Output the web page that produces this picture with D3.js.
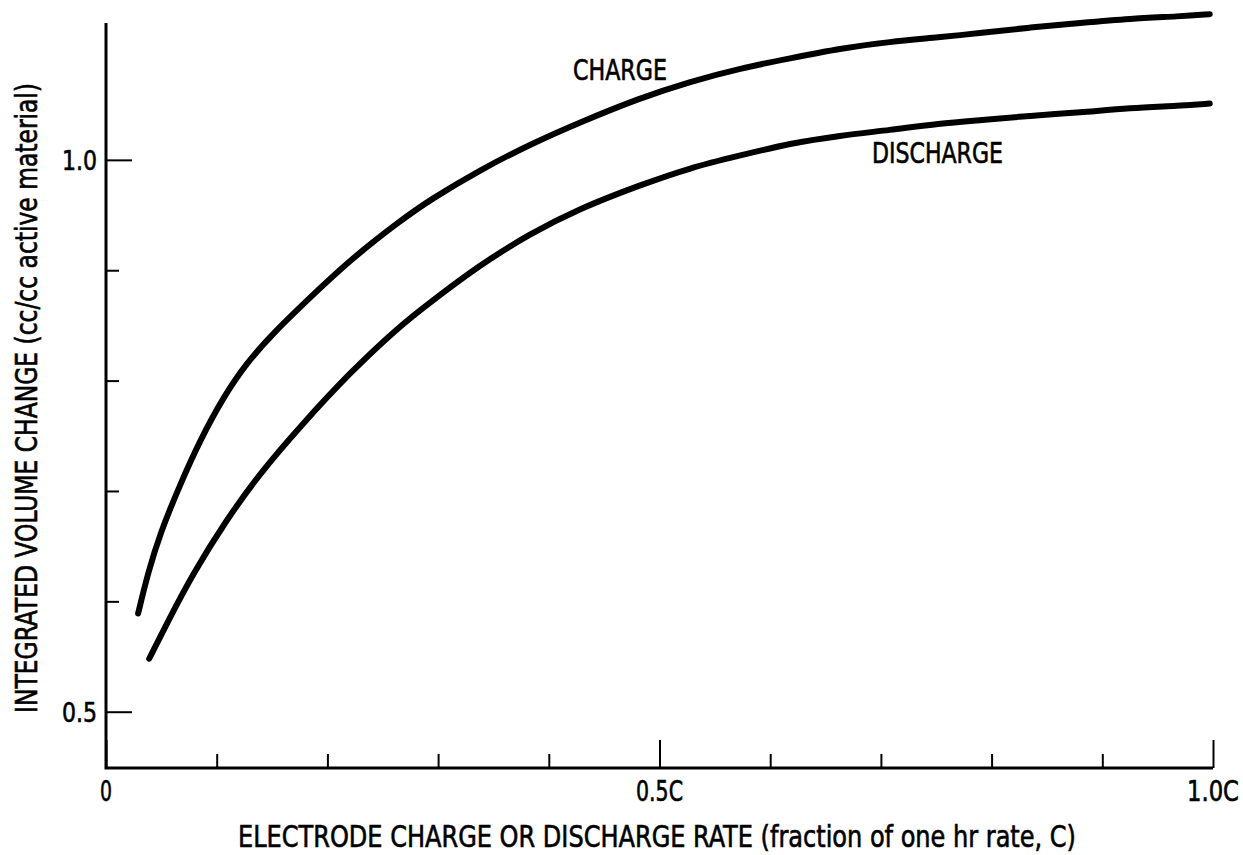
<!DOCTYPE html>
<html>
<head>
<meta charset="utf-8">
<script src="https://cdn.jsdelivr.net/npm/d3@7"></script>
<style>
  body { margin: 0; background: #fff; }
  text { font-family: "Liberation Sans Narrow", "DejaVu Sans Condensed", "Liberation Sans", sans-serif; fill: #000; stroke: #000; stroke-width: 0.6px; }
</style>
</head>
<body>
<div id="chart"></div>
<script>
// rate (fraction of C) vs integrated volume change (cc/cc active material)
var chargeX = [0.029, 0.038, 0.049, 0.067, 0.085, 0.106, 0.127, 0.151, 0.182, 0.220, 0.266, 0.293, 0.338, 0.383, 0.428, 0.482, 0.528, 0.573, 0.618, 0.663, 0.708, 0.753, 0.790, 0.835, 0.880, 0.925, 0.970, 0.997];
var chargeY = [0.589, 0.626, 0.662, 0.706, 0.746, 0.785, 0.816, 0.843, 0.873, 0.909, 0.945, 0.964, 0.991, 1.014, 1.034, 1.056, 1.071, 1.083, 1.092, 1.101, 1.107, 1.111, 1.115, 1.120, 1.124, 1.128, 1.130, 1.132];

var dischargeX = [0.039, 0.055, 0.079, 0.109, 0.139, 0.175, 0.220, 0.266, 0.293, 0.338, 0.383, 0.428, 0.482, 0.528, 0.573, 0.618, 0.663, 0.708, 0.753, 0.790, 0.835, 0.880, 0.925, 0.970, 0.997];
var dischargeY = [0.548, 0.580, 0.626, 0.674, 0.716, 0.758, 0.807, 0.850, 0.871, 0.905, 0.933, 0.956, 0.977, 0.993, 1.004, 1.015, 1.022, 1.027, 1.033, 1.036, 1.040, 1.043, 1.047, 1.049, 1.051];

var xMajor = [0, 0.5, 1.0];
var xMajorLabels = ["0", "0.5C", "1.0C"];
var xMinor = [0.1, 0.2, 0.3, 0.4, 0.6, 0.7, 0.8, 0.9];
var yMajor = [0.5, 1.0];
var yMajorLabels = ["0.5", "1.0"];
var yMinor = [0.6, 0.7, 0.8, 0.9];

var width = 1243,
    height = 855;

var svg = d3.select("#chart")
    .append("svg")
    .attr("width", width)
    .attr("height", height);

var x = d3.scaleLinear().domain([0, 1]).range([106, 1213]);
var y = d3.scaleLinear().domain([0.449, 1.124]).range([768, 23]);

// axes
function styleAxis(g) {
    g.select(".domain").remove();
    g.selectAll(".tick line").attr("stroke", "#000").attr("stroke-width", 2);
}

svg.append("g")
    .attr("transform", "translate(0," + y.range()[0] + ")")
    .call(d3.axisBottom(x).tickValues(xMinor).tickSize(-14).tickFormat(""))
    .call(styleAxis);

svg.append("g")
    .attr("transform", "translate(0," + y.range()[0] + ")")
    .call(d3.axisBottom(x).tickValues(xMajor).tickSize(-28).tickFormat(""))
    .call(styleAxis);

svg.append("g")
    .attr("transform", "translate(" + x.range()[0] + ",0)")
    .call(d3.axisLeft(y).tickValues(yMinor).tickSize(-13).tickFormat(""))
    .call(styleAxis);

svg.append("g")
    .attr("transform", "translate(" + x.range()[0] + ",0)")
    .call(d3.axisLeft(y).tickValues(yMajor).tickSize(-26).tickFormat(""))
    .call(styleAxis);

// axis lines
svg.append("path")
    .attr("d", "M" + x(0) + "," + y.range()[1] + "V" + y.range()[0] + "H" + x(1))
    .attr("fill", "none")
    .attr("stroke", "#000")
    .attr("stroke-width", 3);

// tick labels (widths squeezed to the condensed face of the original)
var xLabWidth = [12, 47, 52];
svg.selectAll(".xlab")
    .data(xMajor)
    .enter().append("text")
    .attr("class", "xlab")
    .attr("x", function (d, i) { return x(d) - xLabWidth[i] / 2; })
    .attr("y", 801)
    .attr("textLength", function (d, i) { return xLabWidth[i]; })
    .attr("lengthAdjust", "spacingAndGlyphs")
    .style("font-size", "29px")
    .text(function (d, i) { return xMajorLabels[i]; });

svg.selectAll(".ylab")
    .data(yMajor)
    .enter().append("text")
    .attr("class", "ylab")
    .attr("x", 62)
    .attr("y", function (d) { return y(d) + 10; })
    .attr("textLength", 35)
    .attr("lengthAdjust", "spacingAndGlyphs")
    .style("font-size", "27px")
    .text(function (d, i) { return yMajorLabels[i]; });

// axis titles
svg.append("text")
    .attr("x", 657)
    .attr("y", 847)
    .attr("text-anchor", "middle")
    .attr("textLength", 838)
    .attr("lengthAdjust", "spacingAndGlyphs")
    .style("font-size", "30px")
    .text("ELECTRODE CHARGE OR DISCHARGE RATE (fraction of one hr rate, C)");

svg.append("text")
    .attr("transform", "translate(37,398) rotate(-90)")
    .attr("text-anchor", "middle")
    .attr("textLength", 630)
    .attr("lengthAdjust", "spacingAndGlyphs")
    .style("font-size", "30px")
    .text("INTEGRATED VOLUME CHANGE (cc/cc active material)");

// curves
var line = d3.line()
    .x(function (d) { return x(d[0]); })
    .y(function (d) { return y(d[1]); })
    .curve(d3.curveBasis);

var series = [
    { name: "CHARGE", pts: d3.zip(chargeX, chargeY), lx: 573, ly: 80, len: 94 },
    { name: "DISCHARGE", pts: d3.zip(dischargeX, dischargeY), lx: 872, ly: 163, len: 131 }
];

svg.selectAll(".curve")
    .data(series)
    .enter().append("path")
    .attr("class", "curve")
    .attr("d", function (d) { return line(d.pts); })
    .attr("fill", "none")
    .attr("stroke", "#000")
    .attr("stroke-width", 6)
    .attr("stroke-linecap", "round");

svg.selectAll(".clab")
    .data(series)
    .enter().append("text")
    .attr("class", "clab")
    .attr("x", function (d) { return d.lx; })
    .attr("y", function (d) { return d.ly; })
    .attr("textLength", function (d) { return d.len; })
    .attr("lengthAdjust", "spacingAndGlyphs")
    .style("font-size", "29px")
    .text(function (d) { return d.name; });
</script>
</body>
</html>
